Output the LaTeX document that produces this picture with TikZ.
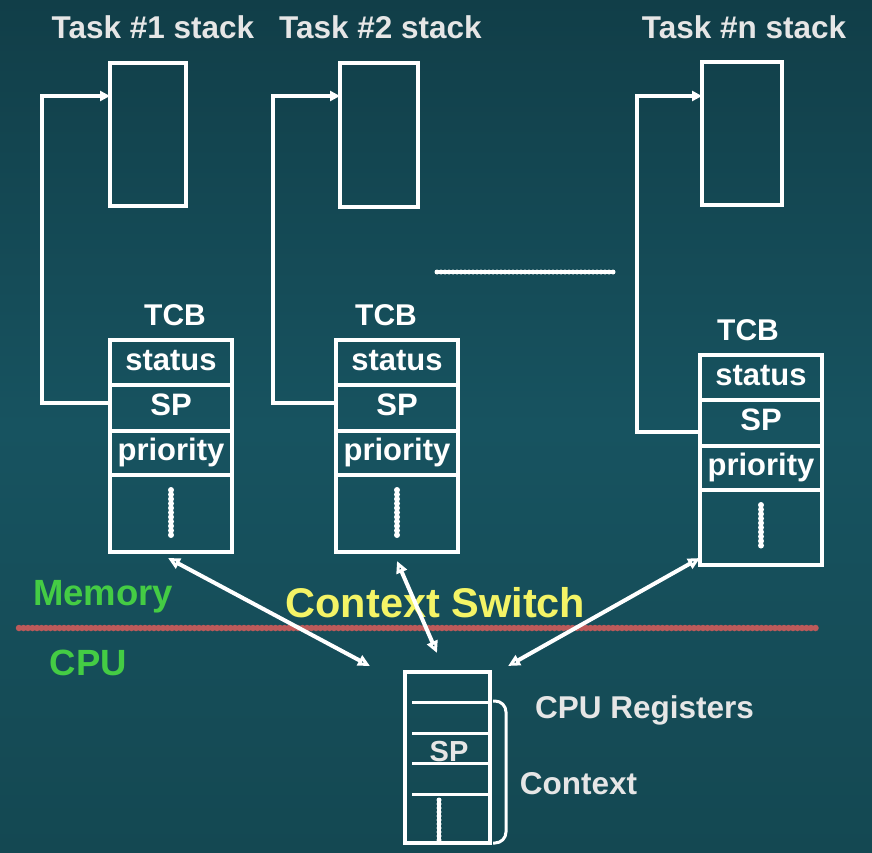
\documentclass[tikz,border=0pt]{standalone}
\usepackage{fontspec}
\setmainfont{Liberation Sans}
\usetikzlibrary{arrows.meta}
\definecolor{bgtop}{HTML}{113E48}
\definecolor{bgmid}{HTML}{175360}
\definecolor{bgbot}{HTML}{144852}
\definecolor{lblgray}{HTML}{E6E6E6}
\definecolor{memgreen}{HTML}{44CC44}
\definecolor{ctxyellow}{HTML}{F4F466}
\definecolor{redline}{HTML}{BD5A5A}
\begin{document}
\begin{tikzpicture}[x=1pt,y=-1pt,
  stackbox/.style={draw=white, line width=3.5pt, inner sep=0pt, outer sep=0pt},
  rowbox/.style={draw=white, line width=3.5pt, minimum width=122pt, inner sep=0pt, outer sep=0pt,
     text=white, font=\fontsize{31}{31}\selectfont\bfseries, text height=22pt, text depth=7pt, anchor=north west},
  tasklbl/.style={text=lblgray, font=\fontsize{31.5}{31.5}\selectfont\bfseries, anchor=base, inner sep=0pt},
  tcblbl/.style={text=white, font=\fontsize{30}{30}\selectfont\bfseries, anchor=base, inner sep=0pt},
  sidelbl/.style={text=memgreen, font=\fontsize{36.5}{36.5}\selectfont\bfseries, anchor=base, inner sep=0pt},
  reglbl/.style={text=lblgray, font=\fontsize{31.5}{31.5}\selectfont\bfseries, anchor=base, inner sep=0pt},
  ptr/.style={draw=white, line width=3.5pt, -{Triangle[length=10pt,width=10pt]}},
  dbl/.style={draw=white, line width=4pt, {Triangle[open,length=12pt,width=11pt]}-{Triangle[open,length=12pt,width=11pt]}},
  beads/.style={draw=white, line width=6pt, line cap=round, dash pattern=on 0pt off 4.5pt},
  regline/.style={draw=white, line width=3pt}
]
\useasboundingbox (0,0) rectangle (872,853);
\shade[top color=bgtop, bottom color=bgbot, middle color=bgmid] (0,0) rectangle (872,853);

% task stack labels
\node[tasklbl] (l1) at (153,39) {Task \#1 stack};
\node[tasklbl] (l2) at (380.5,39) {Task \#2 stack};
\node[tasklbl] (ln) at (744,39) {Task \#n stack};

% stack boxes
\node[stackbox, minimum width=76pt, minimum height=143pt, anchor=north west] (s1) at (110,63) {};
\node[stackbox, minimum width=78pt, minimum height=144pt, anchor=north west] (s2) at (340,63) {};
\node[stackbox, minimum width=80pt, minimum height=143pt, anchor=north west] (sn) at (702,62) {};

% dotted separator between tasks
\draw[beads, line width=5pt, dash pattern=on 0pt off 4pt] (437,272) -- (616,272);

% TCBs
\foreach \n/\l/\t/\h in {1/110/340/77, 2/336/340/77, n/700/355/75}{
  \node[rowbox, minimum height=45pt] (t\n s) at (\l,\t) {status};
  \node[rowbox, minimum height=46pt] (t\n p) at (\l,\t+45) {SP};
  \node[rowbox, minimum height=44pt] (t\n r) at (\l,\t+91) {priority};
  \node[rowbox, minimum height=\h pt] (t\n d) at (\l,\t+135) {};
  \draw[beads] ([yshift=-15pt]t\n d.north) -- ([yshift=16pt]t\n d.south);
}
\node[tcblbl] (c1) at (175,325) {TCB};
\node[tcblbl] (c2) at (386,325) {TCB};
\node[tcblbl] (cn) at (748,340) {TCB};

% pointers from SP to stacks
\coordinate (a1) at (42,96);  \coordinate (b1) at (42,403);
\coordinate (a2) at (273,96); \coordinate (b2) at (273,403);
\coordinate (an) at (637,96); \coordinate (bn) at (637,432);
\draw[ptr] (b1 -| t1p.west) -- (b1) -- (a1) -- (a1 -| s1.west);
\draw[ptr] (b2 -| t2p.west) -- (b2) -- (a2) -- (a2 -| s2.west);
\draw[ptr] (bn -| tnp.west) -- (bn) -- (an) -- (an -| sn.west);

% memory / cpu separation
\draw[draw=redline, line width=6.5pt, line cap=round, dash pattern=on 0pt off 4.5pt] (19,628) -- (819,628);
\node[sidelbl] (mem) at (103,605) {Memory};
\node[sidelbl] (cpul) at (88.5,675) {CPU};
\node[text=ctxyellow, font=\fontsize{41.5}{41.5}\selectfont\bfseries, anchor=base, inner sep=0pt] (cs) at (435.5,617) {Context Switch};

% CPU registers
\node[stackbox, minimum width=85pt, minimum height=171pt, anchor=north west] (cpu) at (405,672) {};
\foreach \y in {702,733,763,794} \draw[regline] (412,\y) -- (490,\y);
\node[text=lblgray, font=\fontsize{29}{29}\selectfont\bfseries, anchor=base, inner sep=0pt] (spr) at (449,761) {SP};
\draw[beads, line width=5pt, dash pattern=on 0pt off 4pt] (439,800) -- (439,841);
\draw[draw=white, line width=3pt, rounded corners=11pt] (493,701) -- (506,701) -- (506,843) -- (493,843);
\node[reglbl] (regs) at (644.5,718) {CPU Registers};
\node[reglbl] (ctx) at (578.5,794) {Context};

% context switch arrows
\coordinate (e1) at (370,666);
\coordinate (e2) at (437,653);
\coordinate (e3) at (508,666);
\draw[dbl] ([xshift=-3pt,yshift=-6pt]t1d.south) -- (e1);
\draw[dbl] ([yshift=-9pt]t2d.south) -- (e2);
\draw[dbl] ([yshift=7pt]tnd.south west) -- (e3);
\end{tikzpicture}
\end{document}
